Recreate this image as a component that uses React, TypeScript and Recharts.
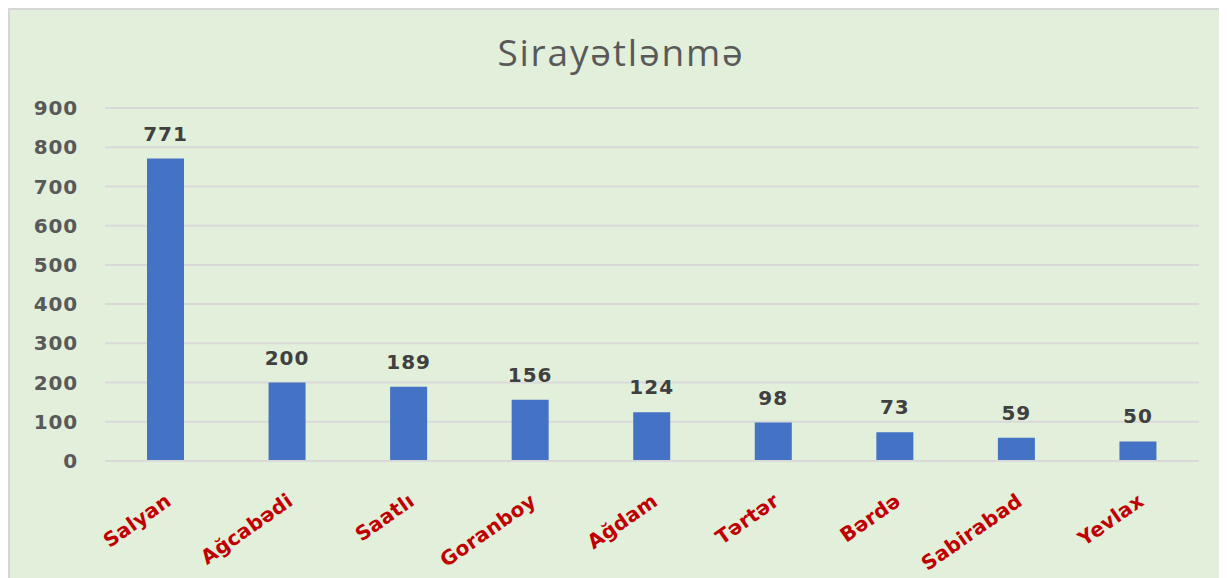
import React from 'react';
import { BarChart, Bar, XAxis, YAxis, CartesianGrid, LabelList } from 'recharts';

const regions = ['Salyan', 'Ağcabədi', 'Saatlı', 'Goranboy', 'Ağdam', 'Tərtər', 'Bərdə', 'Sabirabad', 'Yevlax'];
const infections = [771, 200, 189, 156, 124, 98, 73, 59, 50];
const yTicks = [0, 100, 200, 300, 400, 500, 600, 700, 800, 900];

const chartData = regions.map((name, i) => ({ name, value: infections[i] }));

const FONT = '"DejaVu Sans", Verdana, sans-serif';

// Rotated red category labels under each bar
const RegionTick = ({ x, y, payload }: any) => (
  <g transform={`translate(${x + 7},${y + 35}) rotate(-35)`}>
    <text
      x={0}
      y={0}
      textAnchor="end"
      fill="#C00000"
      fontFamily={FONT}
      fontWeight="bold"
      fontSize={20}
      letterSpacing={0.3}
    >
      {payload.value}
    </text>
  </g>
);

const App: React.FC = () => {
  return (
    <div
      style={{
        position: 'relative',
        width: 1219,
        height: 570,
        background: '#E2EFDA',
        borderTop: '2px solid #D6D6D6',
        borderLeft: '2px solid #D6D6D6',
        boxSizing: 'border-box',
      }}
    >
      <BarChart
        width={1217}
        height={568}
        data={chartData}
        margin={{ top: 98, right: 28, left: 0, bottom: 0 }}
        style={{ position: 'absolute', top: 0, left: 0 }}
      >
        <CartesianGrid vertical={false} stroke="#D9D9D9" strokeWidth={2} />
        <XAxis
          dataKey="name"
          height={117}
          axisLine={{ stroke: '#D9D9D9', strokeWidth: 2 }}
          tickLine={false}
          interval={0}
          tick={<RegionTick />}
        />
        <YAxis
          width={95}
          domain={[0, 900]}
          ticks={yTicks}
          axisLine={false}
          tickLine={false}
          tickMargin={21}
          tick={{ fill: '#595959', fontFamily: FONT, fontWeight: 'bold', fontSize: 20, letterSpacing: 0.8 }}
        />
        <Bar dataKey="value" fill="#4472C4" barSize={37} isAnimationActive={false}>
          <LabelList
            dataKey="value"
            position="top"
            offset={18}
            fill="#404040"
            fontFamily={FONT}
            fontWeight="bold"
            fontSize={20}
            letterSpacing={1}
          />
        </Bar>
      </BarChart>
      <svg width={1217} height={80} style={{ position: 'absolute', top: 0, left: 0 }}>
        <text
          x={611}
          y={56}
          textAnchor="middle"
          fill="#595959"
          fontFamily='"Open Sans", sans-serif'
          fontSize={37}
          letterSpacing={1.8}
        >
          Sirayətlənmə
        </text>
      </svg>
    </div>
  );
};

export default App;
